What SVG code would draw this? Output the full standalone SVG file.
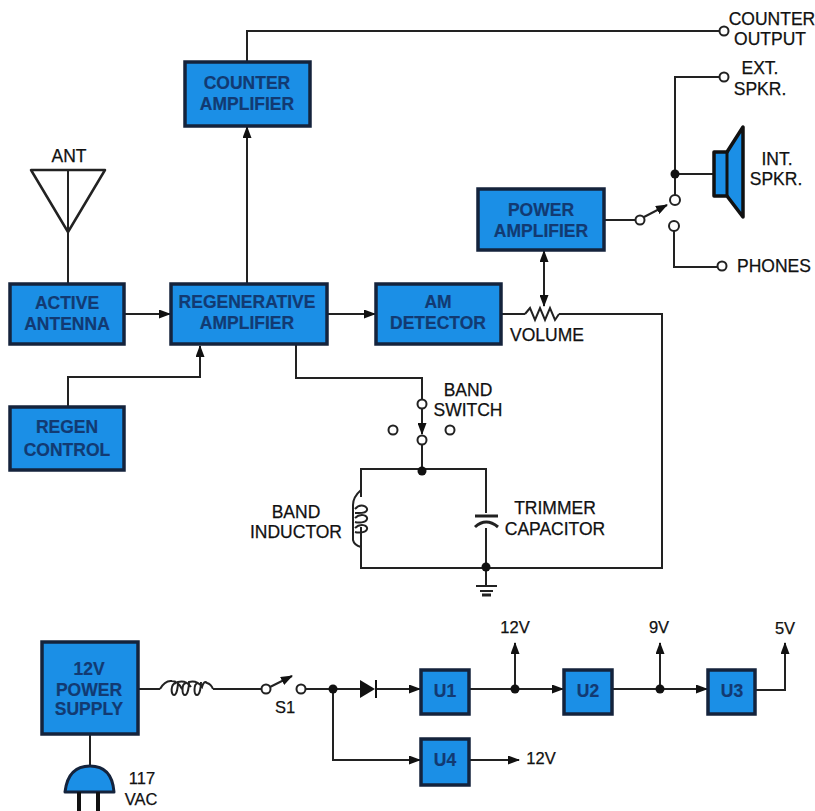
<svg xmlns="http://www.w3.org/2000/svg" width="815" height="811" viewBox="0 0 815 811">
<style>
.b{fill:#1b8fe6;stroke:#14233c;stroke-width:3.5}
.w{fill:none;stroke:#222;stroke-width:2}
.o{fill:#fff;stroke:#222;stroke-width:2}
.d{fill:#111}
text{font-family:"Liberation Sans",Arial,sans-serif;font-size:17.5px;fill:#111;text-anchor:middle;stroke:#111;stroke-width:.25}
.n{fill:#123a72;stroke:#123a72;font-weight:bold;font-size:17.5px;stroke-width:.2}
.s{font-size:16.5px}
</style>
<defs>
<marker id="a" markerWidth="12" markerHeight="9" refX="11" refY="4.5" orient="auto-start-reverse" markerUnits="userSpaceOnUse"><path d="M0 0L12 4.5L0 9Z" fill="#111"/></marker>
</defs>
<rect width="815" height="811" fill="#fff"/>
<g id="connectors">
<path class="w" d="M247 62V31H720"/>
<path class="w" marker-end="url(#a)" d="M247 284V127"/>
<path class="w" d="M68 170V283"/>
<path class="w" marker-end="url(#a)" d="M124 314H170"/>
<path class="w" marker-end="url(#a)" d="M68 407V377H200V346"/>
<path class="w" marker-end="url(#a)" d="M328 314H375"/>
<path class="w" d="M296 345V378H422V399"/>
<path class="w" d="M502 314H525M559 314H662V568H361V527M361 497V469H486V513M486 528V568"/>
<path class="w" d="M422 445V469"/>
<path class="w" marker-end="url(#a)" d="M422 409V434"/>
<path class="w" marker-start="url(#a)" marker-end="url(#a)" d="M544 251V306"/>
<path class="w" d="M605 220H636"/>
<path class="w" marker-end="url(#a)" d="M644 217L667 205"/>
<path class="w" d="M675 195V77H720M675 174H714M674 231V267H718"/>
<path class="w" d="M486 568V585"/>
<path class="w" d="M137 689H160M213 689H262"/>
<path class="w" marker-end="url(#a)" d="M270 687L292 676"/>
<path class="w" d="M306 689H362"/>
<path class="w" marker-end="url(#a)" d="M376 689H420"/>
<path class="w" marker-end="url(#a)" d="M333 689V760H420"/>
<path class="w" marker-end="url(#a)" d="M470 689H563"/>
<path class="w" marker-end="url(#a)" d="M612 689H707"/>
<path class="w" marker-end="url(#a)" d="M469 760H519"/>
<path class="w" marker-end="url(#a)" d="M515 689V643"/>
<path class="w" marker-end="url(#a)" d="M660 689V643"/>
<path class="w" marker-end="url(#a)" d="M756 690H785V643"/>
<path class="w" d="M90 735V766"/>
</g>
<g id="ant"><path d="M31 170H105L68 232Z" fill="none" stroke="#222" stroke-width="2.5" stroke-linejoin="round"/><text x="69" y="162">ANT</text></g>
<g id="counter-amp"><rect class="b" x="185" y="62" width="125" height="64"/><text class="n" x="247" y="89">COUNTER</text><text class="n" x="247" y="110">AMPLIFIER</text></g>
<g id="active-antenna"><rect class="b" x="10" y="284" width="114" height="60"/><text class="n" x="67" y="309">ACTIVE</text><text class="n" x="67" y="330">ANTENNA</text></g>
<g id="regen-amp"><rect class="b" x="171" y="284" width="156" height="60"/><text class="n" x="247" y="308">REGENERATIVE</text><text class="n" x="247" y="329">AMPLIFIER</text></g>
<g id="am-detector"><rect class="b" x="376" y="284" width="125" height="60"/><text class="n" x="438" y="308">AM</text><text class="n" x="438" y="329">DETECTOR</text></g>
<g id="power-amp"><rect class="b" x="478" y="189" width="126" height="61"/><text class="n" x="541" y="216">POWER</text><text class="n" x="541" y="237">AMPLIFIER</text></g>
<g id="regen-control"><rect class="b" x="10" y="407" width="114" height="63"/><text class="n" x="67" y="433">REGEN</text><text class="n" x="67" y="456">CONTROL</text></g>
<g id="volume"><path class="w" d="M525 314L530 308L535 320L540 308L545 320L550 308L555 320L559 314"/><text x="547" y="341">VOLUME</text></g>
<g id="speaker"><path d="M714 152H727L743 127V217L727 196H714Z" fill="#1b8fe6" stroke="#111" stroke-width="3.5" stroke-linejoin="round"/><path d="M727 152V196" stroke="#111" stroke-width="3"/></g>
<g id="switch-out"><circle class="o" cx="640" cy="220" r="4.5"/><circle class="o" cx="675" cy="200" r="5"/><circle class="o" cx="674" cy="226" r="5"/><circle class="d" cx="675" cy="174" r="4.5"/></g>
<g id="terminals"><circle class="o" cx="724" cy="31" r="4.5"/><circle class="o" cx="724" cy="77" r="4.5"/><circle class="o" cx="722" cy="266" r="4.5"/></g>
<g id="labels-top"><text x="772" y="25">COUNTER</text><text x="770" y="45">OUTPUT</text><text x="760" y="74">EXT.</text><text x="760" y="95">SPKR.</text><text x="777" y="165">INT.</text><text x="776" y="185">SPKR.</text><text x="774" y="272">PHONES</text></g>
<g id="band-switch"><circle class="o" cx="422" cy="404" r="4.5"/><circle class="o" cx="422" cy="440" r="4.5"/><circle class="o" cx="393" cy="430" r="4.5"/><circle class="o" cx="450" cy="430" r="4.5"/><circle class="d" cx="422" cy="471" r="4.5"/><text x="468" y="396">BAND</text><text x="468" y="416">SWITCH</text></g>
<g id="band-inductor"><path class="w" d="M361 490Q353 497 353 505V540Q354 545 361 547M355 509C360 503 368 506 367 510S358 513 355 513M355 518C360 513 368 515 367 519S358 523 355 522M355 528C360 523 368 525 367 529S358 533 355 532"/><text x="296" y="518">BAND</text><text x="296" y="538">INDUCTOR</text></g>
<g id="trimmer"><path d="M475 516H498" stroke="#222" stroke-width="3"/><path d="M475 527Q486 517 498 527" fill="none" stroke="#222" stroke-width="3"/><text x="555" y="514">TRIMMER</text><text x="555" y="535">CAPACITOR</text></g>
<g id="ground"><circle class="d" cx="486" cy="567" r="4.5"/><path d="M476 586H497M480 591H493" stroke="#222" stroke-width="2"/><path d="M482 595H491" stroke="#222" stroke-width="3"/></g>
<g id="psu"><rect class="b" x="42" y="642" width="96" height="92"/><text class="n" x="89" y="675">12V</text><text class="n" x="89" y="696">POWER</text><text class="n" x="89" y="715">SUPPLY</text></g>
<g id="plug"><path d="M65 792Q68 766 90 766Q112 766 114 792Z" fill="#1b8fe6" stroke="#14233c" stroke-width="3" stroke-linejoin="round"/><path d="M79 792V811M98 792V811" stroke="#111" stroke-width="4"/><text x="142" y="784" class="s">117</text><text x="141" y="805" class="s">VAC</text></g>
<g id="choke"><path class="w" d="M160 689Q165 680 172 681Q178 681 182 689M176 683C170 684 171 695 174 695S178 686 178 682Q186 680 191 687M186 683C181 684 182 695 185 695S189 686 189 682Q197 680 202 687Q204 680 207 683Q211 684 213 689M198 683C193 684 194 695 197 695S201 686 201 682"/></g>
<g id="s1"><circle class="o" cx="266" cy="689" r="4.5"/><circle class="o" cx="301" cy="689" r="4.5"/><text x="285" y="713" class="s">S1</text></g>
<g id="diode"><circle class="d" cx="333" cy="689" r="4.5"/><path d="M360 680V698L375 689Z" fill="#111"/><path d="M376 680V698" stroke="#111" stroke-width="2"/></g>
<g id="u1"><rect class="b" x="421" y="670" width="48" height="44"/><text class="n" x="445" y="697">U1</text></g>
<g id="u2"><rect class="b" x="564" y="670" width="48" height="44"/><text class="n" x="588" y="697">U2</text></g>
<g id="u3"><rect class="b" x="708" y="670" width="47" height="44"/><text class="n" x="732" y="697">U3</text></g>
<g id="u4"><rect class="b" x="421" y="739" width="48" height="46"/><text class="n" x="445" y="766">U4</text></g>
<g id="rails"><circle class="d" cx="515" cy="689" r="4.5"/><circle class="d" cx="660" cy="689" r="4.5"/><text x="515" y="633" class="s">12V</text><text x="659" y="633" class="s">9V</text><text x="785" y="634" class="s">5V</text><text x="541" y="764" class="s">12V</text></g>
</svg>
